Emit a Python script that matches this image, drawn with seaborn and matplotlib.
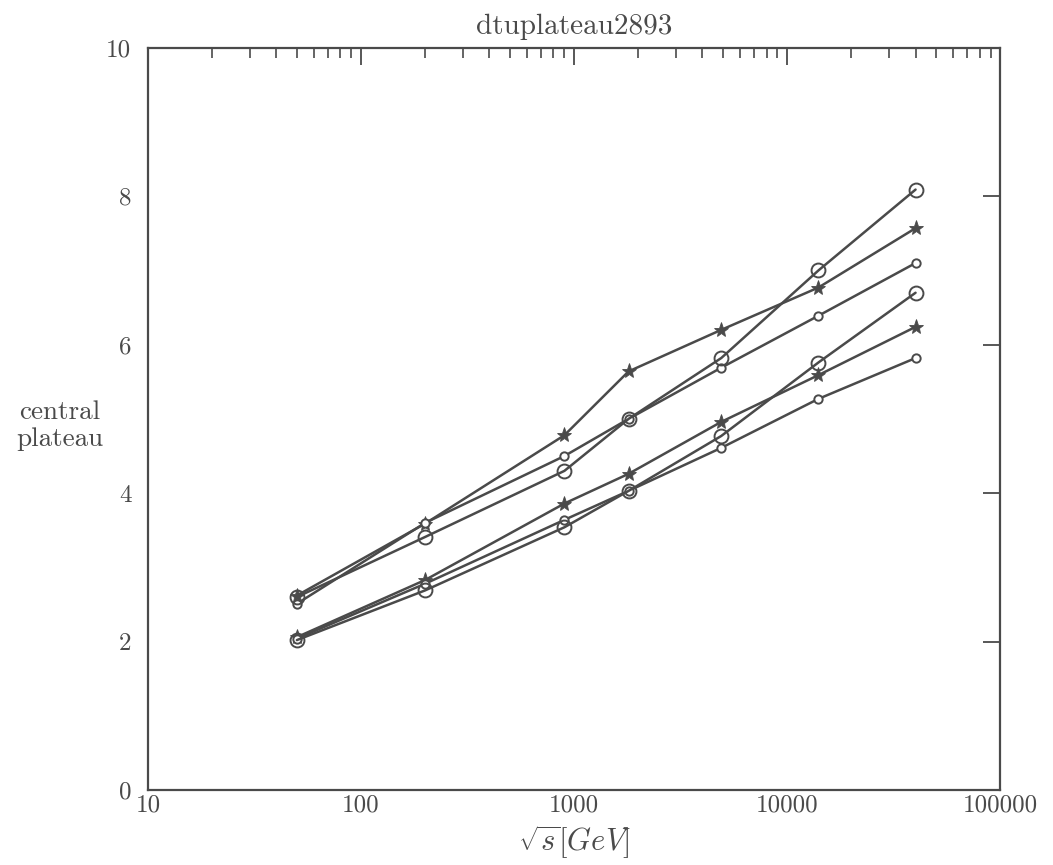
import numpy as np
import pandas as pd
import seaborn as sns
import matplotlib
matplotlib.use("Agg")
import matplotlib.pyplot as plt
from matplotlib.ticker import LogLocator, FixedLocator, FixedFormatter, NullFormatter

# ---- data ----
energies = [50, 200, 900, 1800, 4900, 14000, 40000]
upper_star = [2.62, 3.59, 4.78, 5.64, 6.20, 6.77, 7.57]
upper_small = [2.51, 3.60, 4.50, 5.00, 5.69, 6.39, 7.10]
upper_big = [2.60, 3.41, 4.30, 5.00, 5.82, 7.00, 8.09]
lower_star = [2.06, 2.83, 3.86, 4.26, 4.96, 5.59, 6.24]
lower_small = [2.04, 2.78, 3.64, 4.03, 4.61, 5.27, 5.82]
lower_big = [2.02, 2.69, 3.54, 4.03, 4.77, 5.76, 6.70]

x_ticks = [10, 100, 1000, 10000, 100000]
x_tick_labels = ["10", "100", "1000", "10000", "100000"]
y_ticks = [0, 2, 4, 6, 8, 10]
y_tick_labels = ["0", "2", "4", "6", "8", "10"]

series = {
    "upper_star": upper_star,
    "upper_small": upper_small,
    "upper_big": upper_big,
    "lower_star": lower_star,
    "lower_small": lower_small,
    "lower_big": lower_big,
}
rows = []
for name, vals in series.items():
    for e, v in zip(energies, vals):
        rows.append({"series": name, "energy": e, "plateau": v})
df = pd.DataFrame(rows)

sns.set_theme(style="white")
plt.rcParams["font.family"] = ["cmr10", "DejaVu Serif"]
plt.rcParams["mathtext.fontset"] = "cm"
plt.rcParams["axes.formatter.use_mathtext"] = True

ink = "#4a4a4a"
fig = plt.figure(figsize=(10.53, 8.65), dpi=100)
ax = fig.add_axes([0.1405, 0.0867, 0.8095, 0.858])

styles = {
    "star": dict(marker="*", markersize=11, markerfacecolor=ink, markeredgecolor=ink, markeredgewidth=0.6),
    "small": dict(marker="o", markersize=6, markerfacecolor="white", markeredgecolor=ink, markeredgewidth=1.4),
    "big": dict(marker="o", markersize=10, markerfacecolor="none", markeredgecolor=ink, markeredgewidth=1.4),
}
for name in series:
    kind = name.split("_")[1]
    sub = df[df["series"] == name]
    sns.lineplot(data=sub, x="energy", y="plateau", ax=ax, color=ink,
                 linewidth=1.8, legend=False, sort=False, **styles[kind])

ax.set_xscale("log")
ax.set_xlim(10, 100000)
ax.set_ylim(0, 10)

ax.xaxis.set_major_locator(FixedLocator(x_ticks))
ax.xaxis.set_major_formatter(FixedFormatter(x_tick_labels))
ax.xaxis.set_minor_locator(LogLocator(base=10, subs=np.arange(2, 10), numticks=20))
ax.xaxis.set_minor_formatter(NullFormatter())
ax.yaxis.set_major_locator(FixedLocator(y_ticks))
ax.yaxis.set_major_formatter(FixedFormatter(y_tick_labels))

ax.tick_params(axis="both", which="major", direction="in", length=12, width=1.3,
               top=True, right=True, labelsize=18, colors=ink, pad=12)
ax.tick_params(axis="both", which="minor", direction="in", length=7, width=1.2,
               top=True, right=True, colors=ink)
ax.tick_params(axis="x", which="major", pad=3)
for sp in ax.spines.values():
    sp.set_visible(True)
    sp.set_color(ink)
    sp.set_linewidth(1.6)

ax.set_title("dtuplateau2893", fontsize=21, color=ink, pad=10)
ax.set_xlabel(r"$\sqrt{s}[GeV]$", fontsize=22, color=ink, labelpad=5)
ax.set_ylabel("")
fig.text(0.057, 0.508, "central\nplateau", fontsize=19.5, color=ink,
         ha="center", va="center", linespacing=1.2)

fig.savefig("out.png", dpi=100)
